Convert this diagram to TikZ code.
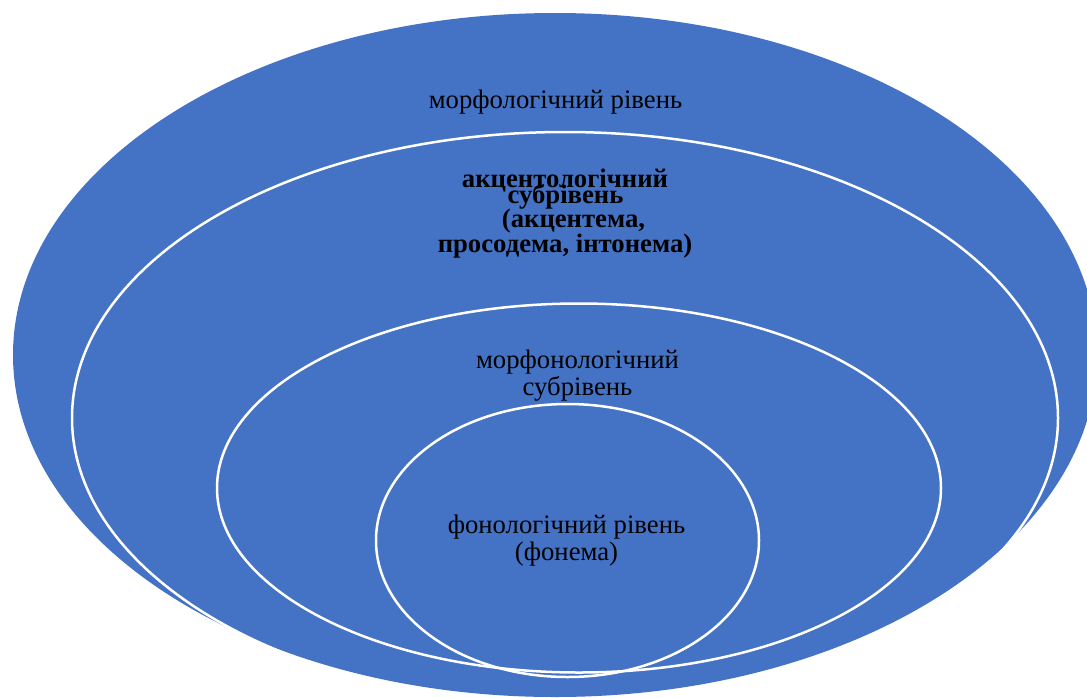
\documentclass[tikz,border=0pt]{standalone}
\usepackage{fontspec}
\setmainfont{Liberation Serif}
\definecolor{ringblue}{HTML}{4472C4}
\tikzset{
  ring/.style={draw=white, line width=2.5pt},
  lbl/.style={font=\fontsize{26.7}{28}\selectfont, text=black, inner sep=0pt, anchor=base},
  blbl/.style={font=\fontsize{26.7}{28}\selectfont\bfseries, text=black, inner sep=0pt, anchor=base}
}
\begin{document}
\begin{tikzpicture}[x=1pt,y=-1pt]
\useasboundingbox (0,0) rectangle (1087,697);
\clip (0,0) rectangle (1087,697);
\fill[white] (0,0) rectangle (1087,697);
% rings
\fill[ringblue] (555,355) ellipse [x radius=542, y radius=342];
\draw[ring] (565,418) ellipse [x radius=493, y radius=286];
\draw[ring] (579,488) ellipse [x radius=362, y radius=184.5];
\draw[ring] (567.5,540.5) ellipse [x radius=191.5, y radius=136.5];
% labels
\node[lbl] (morf) at (555.5,108) {морфологічний рівень};
\node[blbl] (ak1) at (565,187) {акцентологічний};
\node[blbl] (ak2) at (565.5,203) {субрівень};
\node[blbl] (ak3) at (573.5,227) {(акцентема,};
\node[blbl] (ak4) at (565,252) {просодема, інтонема)};
\node[lbl] (mf1) at (577.5,368) {морфонологічний};
\node[lbl] (mf2) at (577.5,395) {субрівень};
\node[lbl] (fn1) at (566.5,533) {фонологічний рівень};
\node[lbl] (fn2) at (566.5,560) {(фонема)};
\end{tikzpicture}
\end{document}
